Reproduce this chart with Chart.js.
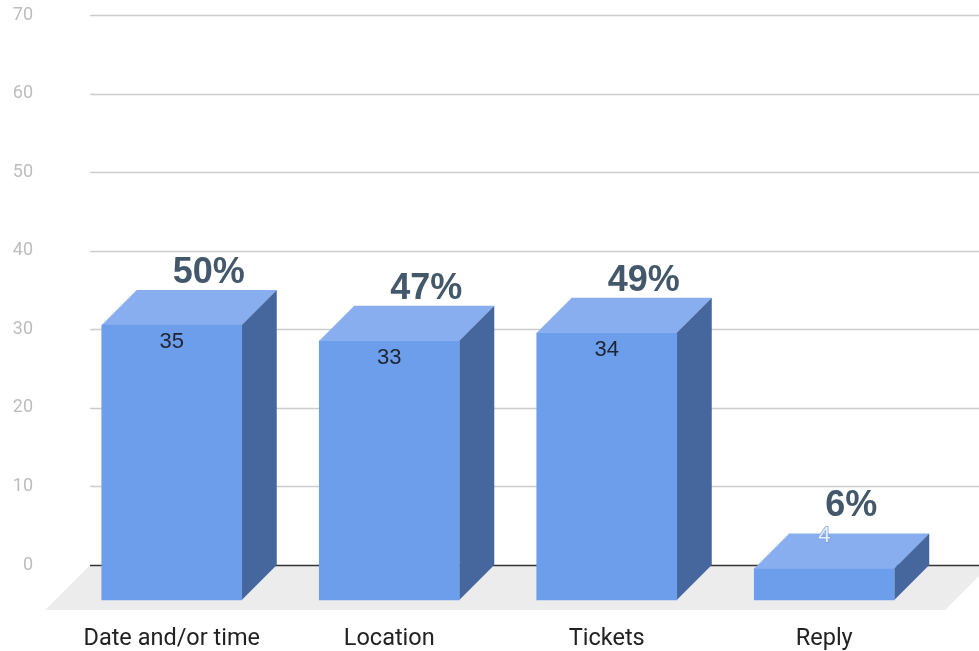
<!DOCTYPE html>
<html>
<head>
<meta charset="utf-8">
<script src="https://cdn.jsdelivr.net/npm/chart.js@4"></script>
<style>
  html, body { margin: 0; padding: 0; background: #fff; }
  canvas { display: block; }
</style>
</head>
<body>
<canvas id="barChartMotivos" width="979" height="651"></canvas>
<script>
const categories = ['Date and/or time', 'Location', 'Tickets', 'Reply'];
const responses = [35, 33, 34, 4];
const percentLabels = ['50%', '47%', '49%', '6%'];
const yTicks = [0, 10, 20, 30, 40, 50, 60, 70];

const DEPTH = 35;        // 3d offset of the front face
const FLOOR_DEPTH = 45;

const FRONT = '#6d9eeb';
const TOP = '#88aeef';
const SIDE = '#46679d';

function barBoxes(chart) {
  return chart.getDatasetMeta(0).data.map(b => ({
    left: b.x - b.width / 2,
    right: b.x + b.width / 2,
    top: b.y,
    base: b.base
  }));
}

// floor, grid, top/side faces; chart.js itself draws the front faces (shifted)
const box3d = {
  id: 'box3d',
  beforeDraw(chart) {
    const ctx = chart.ctx;
    const area = chart.chartArea;
    const y0 = chart.scales.y.getPixelForValue(0);
    const gl = area.left - 8;
    const fr = area.right - 23;
    ctx.save();
    ctx.fillStyle = '#ececec';
    ctx.beginPath();
    ctx.moveTo(gl, y0);
    ctx.lineTo(fr + FLOOR_DEPTH, y0);
    ctx.lineTo(fr, y0 + FLOOR_DEPTH);
    ctx.lineTo(gl - FLOOR_DEPTH, y0 + FLOOR_DEPTH);
    ctx.closePath();
    ctx.fill();
    ctx.restore();
  },
  beforeDatasetsDraw(chart) {
    const ctx = chart.ctx;
    const area = chart.chartArea;
    const y = chart.scales.y;
    const gl = area.left - 8;
    ctx.save();
    yTicks.forEach(v => {
      const py = Math.round(y.getPixelForValue(v)) + 0.5;
      ctx.strokeStyle = v === 0 ? '#333' : '#cccccc';
      ctx.lineWidth = 1.5;
      ctx.beginPath();
      ctx.moveTo(gl, py);
      ctx.lineTo(chart.width, py);
      ctx.stroke();
    });
    barBoxes(chart).forEach(b => {
      ctx.fillStyle = TOP;
      ctx.beginPath();
      ctx.moveTo(b.left - DEPTH, b.top + DEPTH);
      ctx.lineTo(b.right - DEPTH, b.top + DEPTH);
      ctx.lineTo(b.right, b.top);
      ctx.lineTo(b.left, b.top);
      ctx.closePath();
      ctx.fill();
      ctx.fillStyle = SIDE;
      ctx.beginPath();
      ctx.moveTo(b.right - DEPTH, b.top + DEPTH);
      ctx.lineTo(b.right, b.top);
      ctx.lineTo(b.right, b.base);
      ctx.lineTo(b.right - DEPTH, b.base + DEPTH);
      ctx.closePath();
      ctx.fill();
    });
    ctx.restore();
  },
  beforeDatasetDraw(chart) {
    chart.ctx.save();
    chart.ctx.translate(-DEPTH, DEPTH);
  },
  afterDatasetDraw(chart) {
    chart.ctx.restore();
  },
  afterDatasetsDraw(chart) {
    const ctx = chart.ctx;
    ctx.save();
    ctx.textBaseline = 'middle';
    barBoxes(chart).forEach((b, i) => {
      const frontTop = b.top + DEPTH;
      const cx = (b.left + b.right) / 2 - DEPTH;
      const small = (b.base - b.top) < 40;
      ctx.textAlign = 'center';
      ctx.font = '22px "Liberation Sans", Arial, sans-serif';
      if (small) {
        ctx.lineWidth = 1.5;
        ctx.strokeStyle = '#7ea3e6';
        ctx.strokeText(String(responses[i]), cx, b.top + 2);
        ctx.fillStyle = '#e6edfb';
        ctx.fillText(String(responses[i]), cx, b.top + 2);
      } else {
        ctx.fillStyle = '#1f2430';
        ctx.fillText(String(responses[i]), cx, frontTop + 17);
      }
      ctx.textAlign = 'left';
      ctx.font = 'bold 36px "Liberation Sans", Arial, sans-serif';
      ctx.fillStyle = '#44586b';
      ctx.fillText(percentLabels[i], b.left + 36, b.top - (small ? 27 : 17));
    });
    ctx.restore();
  }
};

new Chart(document.getElementById('barChartMotivos'), {
  type: 'bar',
  data: {
    labels: categories,
    datasets: [{
      data: responses,
      backgroundColor: FRONT,
      barThickness: 140,
      clip: false
    }]
  },
  options: {
    responsive: false,
    animation: false,
    events: [],
    layout: { padding: { top: 15, right: 11, left: 0, bottom: 0 } },
    plugins: {
      legend: { display: false },
      tooltip: { enabled: false }
    },
    scales: {
      x: {
        grid: { display: false, drawTicks: false },
        border: { display: false },
        afterFit(s) { s.height = 86; s.paddingLeft = 0; s.paddingRight = 0; },
        ticks: {
          labelOffset: -DEPTH,
          padding: 60,
          maxRotation: 0,
          autoSkip: false,
          color: '#222',
          font: { family: 'Roboto', size: 23.5 }
        }
      },
      y: {
        min: 0,
        max: 70,
        afterFit(s) { s.width = 98; s.paddingTop = 10; s.paddingBottom = 0; },
        grid: { display: false, drawTicks: false },
        border: { display: false },
        ticks: {
          stepSize: 10,
          padding: 65,
          color: '#bdbdbd',
          font: { family: 'Roboto', size: 18 }
        }
      }
    }
  },
  plugins: [box3d]
});
</script>
</body>
</html>
